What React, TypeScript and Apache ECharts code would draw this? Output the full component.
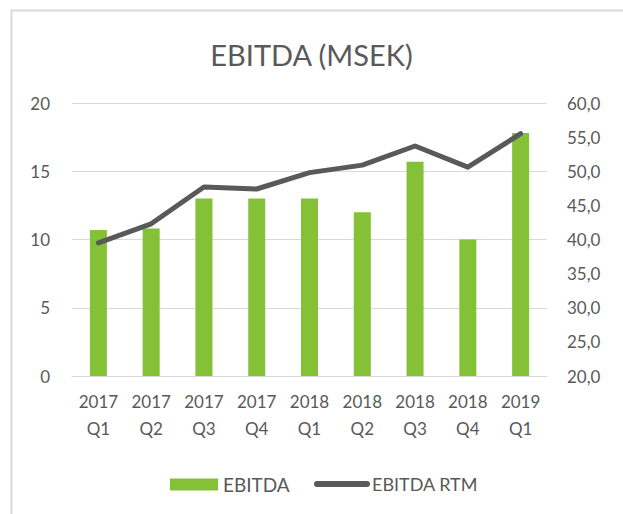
import React, { useEffect, useRef } from "react";
import * as echarts from "echarts";

const categories = ["2017\nQ1", "2017\nQ2", "2017\nQ3", "2017\nQ4", "2018\nQ1", "2018\nQ2", "2018\nQ3", "2018\nQ4", "2019\nQ1"];
const ebitda = [10.7, 10.8, 13.0, 13.0, 13.0, 12.0, 15.7, 10.0, 17.8];
const ebitdaRtm = [39.5, 42.3, 47.7, 47.4, 49.8, 50.9, 53.7, 50.6, 55.5];

const FONT = "Lato";
const TXT = "#595959";
const LINE_ICON = "path://M3,0 H53 A3,3 0 0 1 53,6 H3 A3,3 0 0 1 3,0 Z";

export default function App() {
  const ref = useRef<HTMLDivElement>(null);
  useEffect(() => {
    const chart = echarts.init(ref.current!, null, { renderer: "svg" });
    chart.setOption({
      animation: false,
      backgroundColor: "#ffffff",
      textStyle: { fontFamily: FONT },
      title: {
        text: "EBITDA (MSEK)",
        left: "center",
        top: 35,
        textStyle: { fontFamily: FONT, fontSize: 29, fontWeight: "normal", color: TXT },
      },
      graphic: [
        {
          type: "rect",
          shape: { x: 11.5, y: 10.5, width: 1000, height: 1000 },
          style: { fill: "none", stroke: "#d9d9d9", lineWidth: 2 },
          silent: true,
        },
      ],
      legend: [
        {
          left: 165,
          top: 470,
          itemWidth: 48,
          itemHeight: 12,
          textStyle: { fontFamily: FONT, fontSize: 19, color: TXT },
          data: [{ name: "EBITDA", icon: "rect" }],
        },
        {
          left: 309,
          top: 470,
          itemWidth: 56,
          itemHeight: 12,
          textStyle: { fontFamily: FONT, fontSize: 18, color: TXT, padding: [0, 0, 0, -3] },
          data: [{ name: "EBITDA RTM", icon: LINE_ICON }],
        },
      ],
      grid: { left: 72, right: 76, top: 103, bottom: 138 },
      xAxis: {
        type: "category",
        data: categories,
        axisTick: { show: false },
        axisLine: { lineStyle: { color: "#d9d9d9", width: 1 } },
        axisLabel: { color: TXT, fontSize: 17, fontFamily: FONT, lineHeight: 27, margin: 12, interval: 0 },
      },
      yAxis: [
        {
          type: "value",
          min: 0,
          max: 20,
          interval: 5,
          axisLine: { show: false },
          axisTick: { show: false },
          splitLine: { lineStyle: { color: "#d9d9d9", width: 1 } },
          axisLabel: { color: TXT, fontSize: 17, fontFamily: FONT, margin: 22 },
        },
        {
          type: "value",
          min: 20,
          max: 60,
          interval: 5,
          axisLine: { show: false },
          axisTick: { show: false },
          splitLine: { show: false },
          axisLabel: {
            color: TXT,
            fontSize: 17,
            fontFamily: FONT,
            margin: 20,
            formatter: (v: number) => v.toFixed(1).replace(".", ","),
          },
        },
      ],
      series: [
        {
          name: "EBITDA",
          type: "bar",
          data: ebitda,
          barWidth: 17,
          itemStyle: { color: "#84c136" },
        },
        {
          name: "EBITDA RTM",
          type: "line",
          yAxisIndex: 1,
          data: ebitdaRtm,
          symbol: "none",
          lineStyle: { color: "#595959", width: 5, cap: "round", join: "round" },
          itemStyle: { color: "#595959" },
        },
      ],
    });
    return () => chart.dispose();
  }, []);
  return <div ref={ref} style={{ position: "fixed", left: 0, top: 0, width: 623, height: 514 }} />;
}
